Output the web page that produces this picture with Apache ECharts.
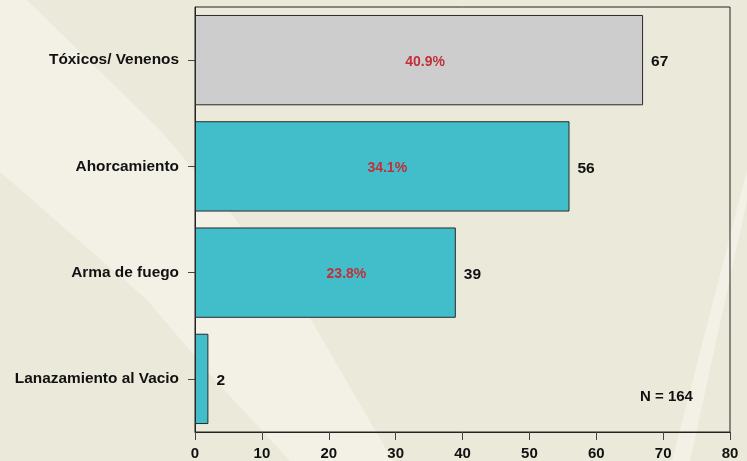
<!DOCTYPE html>
<html>
<head>
<meta charset="utf-8">
<script src="https://cdn.jsdelivr.net/npm/echarts@6/dist/echarts.min.js"></script>
<style>html,body{margin:0;padding:0;}#c{width:747px;height:461px;}</style>
</head>
<body>
<div id="c"></div>
<script>
const categories = ['Tóxicos/ Venenos', 'Ahorcamiento', 'Arma de fuego', 'Lanazamiento al Vacio'];
const counts = [67, 56, 39, 2];
const pctLabels = ['40.9%', '34.1%', '23.8%', ''];
const xTicks = [0, 10, 20, 30, 40, 50, 60, 70, 80];
const totalLabel = 'N = 164';

const barColors = ['#cdcdcd', '#41bec9', '#41bec9', '#41bec9'];
const pctOffsets = [[6, 2], [5, 2], [21, 2], [0, 0]];

const chart = echarts.init(document.getElementById('c'), null, {renderer: 'canvas'});
const font = '"Liberation Sans", Arial, sans-serif';

const option = {
  backgroundColor: '#ebe9da',
  animation: false,
  graphic: [
    {type: 'polygon', z: -10, silent: true, shape: {points: [[0,0],[27,0],[160,130],[230,212],[310,318],[393,461],[290,461],[215,380],[147,300],[0,172]]}, style: {fill: '#f3f1e6'}},
    {type: 'polygon', z: -10, silent: true, shape: {points: [[747,170],[747,200],[690,461],[672,461]]}, style: {fill: '#f3f1e6'}},
    {type: 'text', left: 640, top: 389, z: 10, style: {text: totalLabel, font: 'bold 15px ' + font, fill: '#111'}}
  ],
  grid: {left: 195, right: 17, top: 7, bottom: 29, show: true, borderColor: '#222', borderWidth: 1, backgroundColor: 'transparent'},
  xAxis: {
    type: 'value', min: xTicks[0], max: xTicks[xTicks.length - 1], interval: 10,
    splitLine: {show: false},
    axisLine: {show: true, lineStyle: {color: '#222', width: 1}},
    axisTick: {show: true, length: 8, lineStyle: {color: '#444'}},
    axisLabel: {fontFamily: font, fontWeight: 'bold', fontSize: 15, color: '#111', margin: 14}
  },
  yAxis: {
    type: 'category', data: categories, inverse: true,
    axisLine: {show: true, lineStyle: {color: '#222'}},
    axisTick: {show: true, alignWithLabel: true, length: 7, lineStyle: {color: '#444'}},
    axisLabel: {fontFamily: font, fontWeight: 'bold', fontSize: 15.4, color: '#111', margin: 16, padding: [4, 0, 0, 0]}
  },
  series: [
    {
      type: 'bar', barCategoryGap: '15%',
      data: counts.map((v, i) => ({value: v, itemStyle: {color: barColors[i]}})),
      itemStyle: {borderColor: '#2a2a2a', borderWidth: 1},
      label: {show: true, position: 'right', distance: 8, offset: [0, 2], fontFamily: font, fontWeight: 'bold', fontSize: 15.5, color: '#111'}
    },
    {
      type: 'bar', barCategoryGap: '15%', barGap: '-100%', z: 5, silent: true,
      data: counts.map((v, i) => ({value: v, label: {offset: pctOffsets[i], formatter: pctLabels[i]}})),
      itemStyle: {color: 'transparent'},
      label: {show: true, position: 'inside', fontFamily: font, fontWeight: 'bold', fontSize: 14, color: '#c1303b'}
    }
  ]
};
chart.setOption(option);
</script>
</body>
</html>
